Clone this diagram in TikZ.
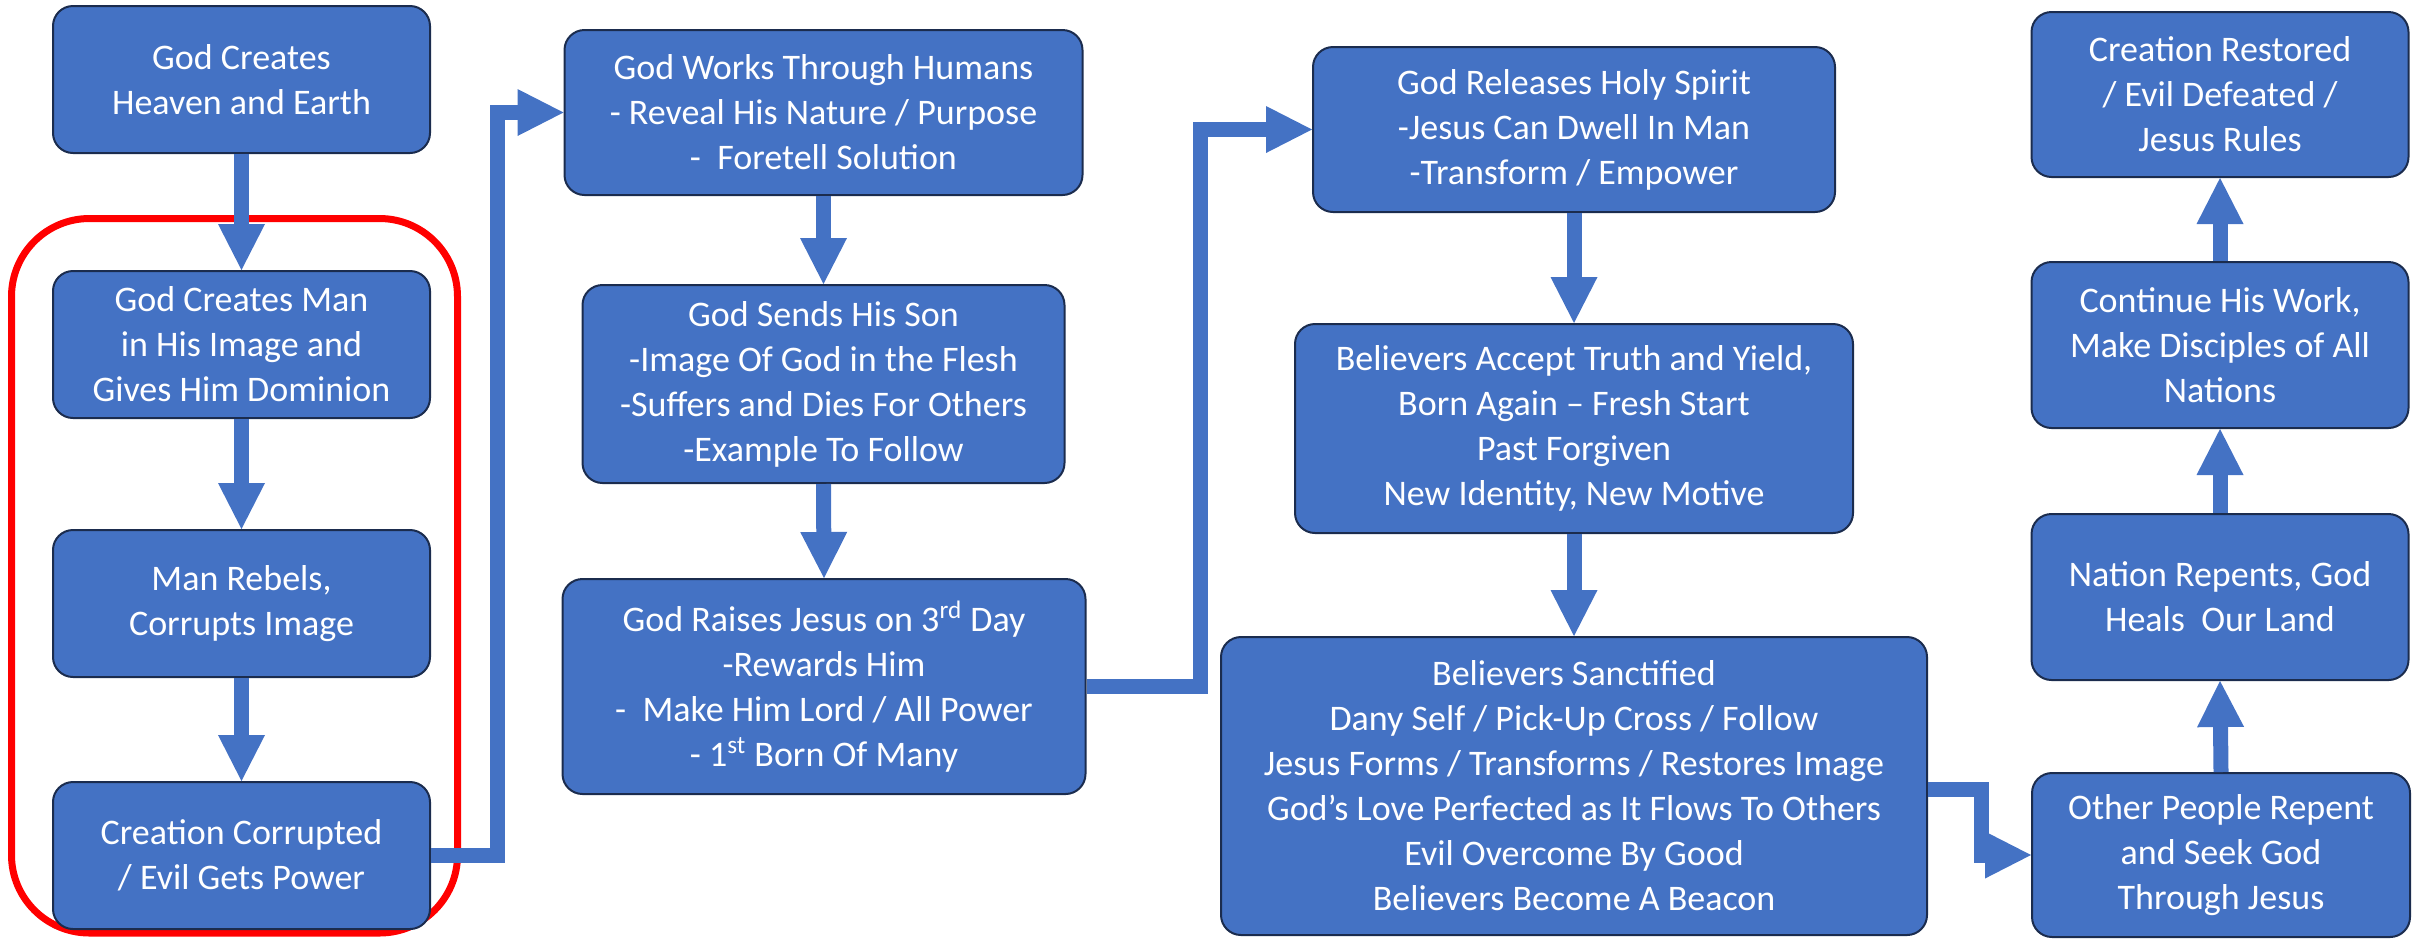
\documentclass[tikz,border=0pt]{standalone}
\usepackage{fontspec}
\setmainfont{Carlito}
\usetikzlibrary{arrows.meta}
\definecolor{boxblue}{HTML}{4472C4}
\definecolor{boxline}{HTML}{1B2C4E}
\definecolor{framered}{HTML}{FF0000}
\tikzset{
  flowbox/.style={draw=boxline, line width=1pt, fill=boxblue, rounded corners=10pt,
    text=white, align=center, font=\fontsize{18}{22.5}\selectfont, inner sep=0pt},
  conn/.style={draw=boxblue, line width=7.5pt, line join=miter,
    -{Triangle[width=23.5pt,length=23pt,line width=0pt]}},
  redframe/.style={draw=framered, line width=3.5pt, rounded corners=39pt}
}
\begin{document}
\begin{tikzpicture}[x=0.5pt,y=-0.5pt]
\useasboundingbox (0,0) rectangle (2423,939);
% red frame
\draw[redframe] (11.5,218.5) rectangle (457.5,933);
% column 1
\node[flowbox, minimum width=188.5pt, minimum height=73.5pt] (b1) at (241.5,79.5) {God Creates\\Heaven and Earth};
\node[flowbox, minimum width=188.5pt, minimum height=73.5pt] (b2) at (241.5,344.5) {God Creates Man\\in His Image and\\Gives Him Dominion};
\node[flowbox, minimum width=188.5pt, minimum height=73.5pt] (b3) at (241.5,603.5) {Man Rebels,\\Corrupts Image};
\node[flowbox, minimum width=188.5pt, minimum height=73.5pt] (b4) at (241.5,855.5) {Creation Corrupted\\/ Evil Gets Power};
% column 2
\node[flowbox, minimum width=259pt, minimum height=82.5pt] (b5) at (823.5,112.5) {God Works Through Humans\\- Reveal His Nature / Purpose\\-\ \ Foretell Solution};
\node[flowbox, minimum width=241pt, minimum height=99pt] (b6) at (823.5,384) {God Sends His Son\\-Image Of God in the Flesh\\-Suffers and Dies For Others\\-Example To Follow};
\node[flowbox, minimum width=261.5pt, minimum height=107.5pt] (b7) at (824,686.5) {God Raises Jesus on 3\textsuperscript{rd} Day\\-Rewards Him\\-\ \ Make Him Lord / All Power\\- 1\textsuperscript{st} Born Of Many};
% column 3
\node[flowbox, minimum width=261pt, minimum height=82.5pt] (b9) at (1574,129.5) {God Releases Holy Spirit\\-Jesus Can Dwell In Man\\-Transform / Empower};
\node[flowbox, minimum width=279pt, minimum height=104.5pt] (b10) at (1574,428.5) {Believers Accept Truth and Yield,\\Born Again – Fresh Start\\Past Forgiven\\New Identity, New Motive};
\node[flowbox, minimum width=353pt, minimum height=149pt] (b11) at (1574,786) {Believers Sanctified\\Dany Self / Pick-Up Cross / Follow\\Jesus Forms / Transforms / Restores Image\\God’s Love Perfected as It Flows To Others\\Evil Overcome By Good\\Believers Become A Beacon};
% column 4
\node[flowbox, minimum width=189pt, minimum height=82pt] (b12) at (2221,855) {Other People Repent\\and Seek God\\Through Jesus};
\node[flowbox, minimum width=188.5pt, minimum height=83pt] (b13) at (2220,597) {Nation Repents, God\\Heals\ \ Our Land};
\node[flowbox, minimum width=188.5pt, minimum height=83pt] (b14) at (2220,345) {Continue His Work,\\Make Disciples of All\\Nations};
\node[flowbox, minimum width=188.5pt, minimum height=82.5pt] (b15) at (2220,94.5) {Creation Restored\\/ Evil Defeated /\\Jesus Rules};
% connectors
\draw[conn] (b1.south) -- (b2.north);
\draw[conn] (b2.south) -- (b3.north);
\draw[conn] (b3.south) -- (b4.north);
\draw[conn] (b4.east) -- ++(66.5,0) |- (b5.west);
\draw[conn] (b5.south) -- (b6.north);
\draw[conn] (b6.south) -- (b7.north);
\draw[conn] (b7.east) -- ++(113.5,0) |- (b9.west);
\draw[conn] (b9.south) -- (b10.north);
\draw[conn] (b10.south) -- (b11.north);
\draw[conn] (b11.east) ++(0,3.5) -- ++(53.5,0) |- (b12.west);
\draw[conn] (b12.north) -- (b13.south);
\draw[conn] (b13.north) -- (b14.south);
\draw[conn] (b14.north) -- (b15.south);
\end{tikzpicture}
\end{document}
